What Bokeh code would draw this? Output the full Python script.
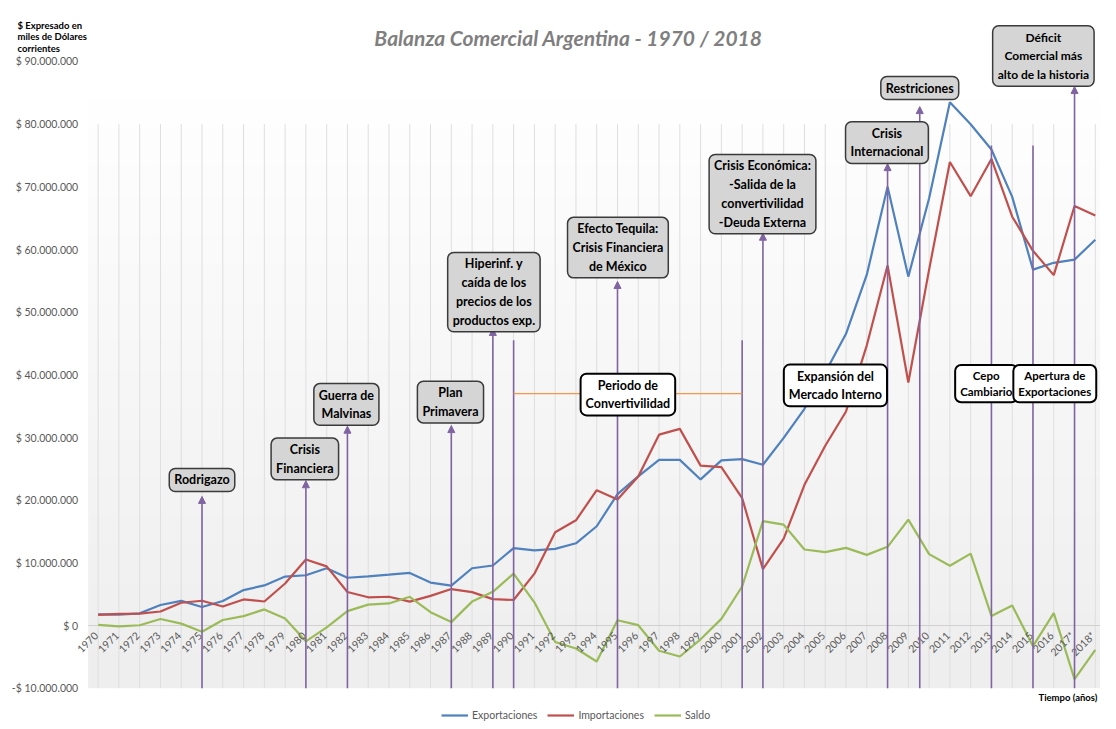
import numpy as np
from bokeh.plotting import figure
from bokeh.models import Label, Arrow, NormalHead, Legend, LegendItem, Range1d
from bokeh.core.properties import value
from bokeh.embed import file_html
from bokeh.resources import INLINE

# ---------------- data (miles de dólares corrientes) ----------------
years = list(range(1970, 2019))
year_labels = [str(y) for y in range(1970, 2017)] + ["2017*", "2018*"]

exportaciones = [1773000, 1740000, 1941000, 3266000, 3931000, 2961000, 3916000, 5652000,
                 6400000, 7810000, 8021000, 9143000, 7624000, 7836000, 8107000, 8396000,
                 6852000, 6360000, 9135000, 9579000, 12353000, 11978000, 12235000, 13118000,
                 15839000, 20963000, 23811000, 26431000, 26434000, 23309000, 26341000, 26543000,
                 25651000, 29939000, 34576000, 40387000, 46546000, 55980000, 70019000, 55672000,
                 68187000, 83500000, 79982000, 75963000, 68404000, 56788000, 57879000, 58384000,
                 61559000]
importaciones = [1685000, 1868000, 1905000, 2230000, 3635000, 3946000, 3033000, 4162000,
                 3834000, 6700000, 10541000, 9430000, 5337000, 4504000, 4585000, 3814000,
                 4724000, 5818000, 5322000, 4203000, 4077000, 8275000, 14872000, 16784000,
                 21590000, 20122000, 23762000, 30450000, 31377000, 25508000, 25280000, 20320000,
                 8990000, 13851000, 22445000, 28687000, 34154000, 44707000, 57462000, 38786000,
                 56793000, 73961000, 68508000, 74442000, 65229000, 59787000, 55911000, 66938000,
                 65441000]
saldo = [88000, -128000, 36000, 1036000, 296000, -985000, 883000, 1490000,
         2566000, 1110000, -2520000, -287000, 2287000, 3332000, 3522000, 4582000,
         2128000, 542000, 3813000, 5376000, 8276000, 3703000, -2637000, -3666000,
         -5751000, 841000, 49000, -4019000, -4943000, -2199000, 1061000, 6223000,
         16661000, 16088000, 12131000, 11700000, 12392000, 11273000, 12557000, 16886000,
         11394000, 9539000, 11474000, 1521000, 3175000, -3300000, 1968000, -8554000,
         -3882000]

y_ticks = [-10000000, 0, 10000000, 20000000, 30000000, 40000000, 50000000,
           60000000, 70000000, 80000000, 90000000]
y_tick_labels = ["-$ 10.000.000", "$ 0", "$ 10.000.000", "$ 20.000.000", "$ 30.000.000",
                 "$ 40.000.000", "$ 50.000.000", "$ 60.000.000", "$ 70.000.000",
                 "$ 80.000.000", "$ 90.000.000"]

# events with arrows (gray boxes)
event_text = ["Rodrigazo", "Crisis\nFinanciera", "Guerra de\nMalvinas", "Plan\nPrimavera",
              "Hiperinf. y\ncaída de los\nprecios de los\nproductos exp.",
              "Efecto Tequila:\nCrisis Financiera\nde México",
              "Crisis Económica:\n-Salida de la\nconvertivilidad\n-Deuda Externa",
              "Crisis\nInternacional", "Restriciones",
              "Déficit\nComercial más\nalto de la historia"]
event_year = [1975, 1980, 1982, 1987, 1989, 1995, 2002, 2008, 2009.55, 2017]

# periods (white boxes)
period_text = ["Periodo de\nConvertivilidad", "Expansión del\nMercado Interno",
               "Cepo\nCambiario", "Apertura de\nExportaciones"]

# ---------------- annotation layout (data units) ----------------
event_tip = [20.6e6, 23.1e6, 31.8e6, 31.9e6, 47.4e6, 54.9e6, 62.6e6, 73.7e6, 82.8e6, 86.0e6]
event_box_x = [1975, 1979.95, 1981.95, 1986.96, 1989.05, 1995.02, 2001.98, 2007.97, 2009.55, 2015.5]
event_box_y = [23.22e6, 26.57e6, 35.27e6, 35.66e6, 53.2e6, 60.3e6, 68.85e6, 77.07e6, 85.77e6, 90.88e6]
event_size = ["12.5px"] * 9 + ["12px"]
period_box_x = [1995.5, 2005.49, 2012.75, 2016.05]
period_box_y = [36.86e6, 38.3e6, 38.6e6, 38.6e6]
period_size = ["12.5px", "12.5px", "11.5px", "11.5px"]
plain_line_x = [1990, 2001, 2013, 2015]
plain_line_top = [45.5e6, 45.5e6, 76.6e6, 76.6e6]

FONT = "Lato"
PURPLE = "#8064a2"
GRAY_TXT = "#595959"
BOTTOM = -10000000
AREA_LEFT = 1969.52

x0, x1 = 1965.30, 2018.25
y0, y1 = -15319000, 99734000

p = figure(width=1100, height=721, x_range=Range1d(x0, x1), y_range=Range1d(y0, y1),
           output_backend="svg", toolbar_location=None, x_axis_location=None,
           y_axis_location=None, min_border=0)
p.outline_line_color = None
p.grid.grid_line_color = None
p.background_fill_color = "white"
p.border_fill_color = "white"

# plot-area gradient background
n = 96
g = np.linspace(0xee, 0xff, n).astype(np.uint8)
img = np.empty((n, 1), dtype=np.uint32)
view = img.view(dtype=np.uint8).reshape((n, 1, 4))
view[:, 0, 0] = g
view[:, 0, 1] = g
view[:, 0, 2] = g
view[:, 0, 3] = 255
p.image_rgba(image=[img], x=AREA_LEFT, y=BOTTOM, dw=x1 - AREA_LEFT, dh=95000000, level="image")

# vertical category gridlines and zero line
p.segment(x0=years, y0=[BOTTOM] * len(years), x1=years, y1=[80000000] * len(years),
          line_color="#dedede", line_width=1, level="underlay")
p.segment(x0=[AREA_LEFT], y0=[0], x1=[x1], y1=[0], line_color="#d0d0d0", line_width=1.2,
          level="underlay")

# value axis labels
p.text(x=[1969.04] * len(y_ticks), y=y_ticks, text=y_tick_labels, text_align="right",
       text_baseline="middle", text_font=value(FONT), text_font_size="10.5px",
       text_color=GRAY_TXT)

# data lines
r_exp = p.line(years, exportaciones, line_color="#4f81bd", line_width=2.2)
r_imp = p.line(years, importaciones, line_color="#c0504d", line_width=2.2)
r_sal = p.line(years, saldo, line_color="#9bbb59", line_width=2.2)

# category labels sitting on the zero line
p.text(x=years, y=[0] * len(years), text=year_labels, angle=np.pi / 4,
       text_align="right", text_baseline="middle", x_offset=-2, y_offset=8,
       text_font=value(FONT), text_font_size="10.5px", text_color=GRAY_TXT)

# plain marker lines and convertibility period line
p.segment(x0=plain_line_x, y0=[BOTTOM] * 4, x1=plain_line_x, y1=plain_line_top,
          line_color=PURPLE, line_width=1.6)
p.segment(x0=[plain_line_x[0]], y0=[37.0e6], x1=[plain_line_x[1]], y1=[37.0e6],
          line_color="#f79646", line_width=1.2)

# arrows
for yr, tip in zip(event_year, event_tip):
    p.add_layout(Arrow(end=NormalHead(size=7, fill_color=PURPLE, line_color=PURPLE),
                       x_start=yr, y_start=BOTTOM, x_end=yr, y_end=tip,
                       line_color=PURPLE, line_width=1.6))

# event boxes
for t, bx, by, fs in zip(event_text, event_box_x, event_box_y, event_size):
    p.add_layout(Label(x=bx, y=by, text=t, text_align="center", text_baseline="middle",
                       text_font=FONT, text_font_style="bold", text_font_size=fs,
                       text_line_height=1.25, text_color="black",
                       background_fill_color="#d5d5d5", border_line_color="#3a3a3a",
                       border_line_width=1.5, border_radius=6, padding=(5, 4)))
for t, bx, by, fs in zip(period_text, period_box_x, period_box_y, period_size):
    p.add_layout(Label(x=bx, y=by, text=t, text_align="center", text_baseline="middle",
                       text_font=FONT, text_font_style="bold", text_font_size=fs,
                       text_line_height=1.25, text_color="black",
                       background_fill_color="white", border_line_color="black",
                       border_line_width=2, border_radius=6, padding=(5, 4)))

# title and axis notes
p.add_layout(Label(x=1992.64, y=93.83e6, text="Balanza Comercial Argentina - 1970 / 2018",
                   text_align="center", text_baseline="middle", text_font=FONT,
                   text_font_style="bold italic", text_font_size="21px", text_color="#7f7f7f"))
p.add_layout(Label(x=1966.115, y=96.7e6, text="$ Expresado en\nmiles de Dólares\ncorrientes",
                   text_align="left", text_baseline="top", text_font=FONT,
                   text_font_style="bold", text_font_size="9.5px", text_line_height=1.05,
                   text_color="black"))
p.add_layout(Label(x=2018.1, y=-11.49e6, text="Tiempo (años)", text_align="right",
                   text_baseline="middle", text_font=FONT, text_font_style="bold",
                   text_font_size="9.5px", text_color="black"))

legend = Legend(items=[LegendItem(label="Exportaciones", renderers=[r_exp]),
                       LegendItem(label="Importaciones", renderers=[r_imp]),
                       LegendItem(label="Saldo", renderers=[r_sal])],
                orientation="horizontal", location=(441, 0), padding=0, margin=0,
                spacing=10, glyph_width=27, glyph_height=12, label_standoff=4,
                label_text_font=FONT, label_text_font_size="10.5px",
                label_text_color=GRAY_TXT, border_line_color=None,
                background_fill_alpha=0)
p.add_layout(legend)

open("out.html", "w").write(file_html(p, INLINE))
